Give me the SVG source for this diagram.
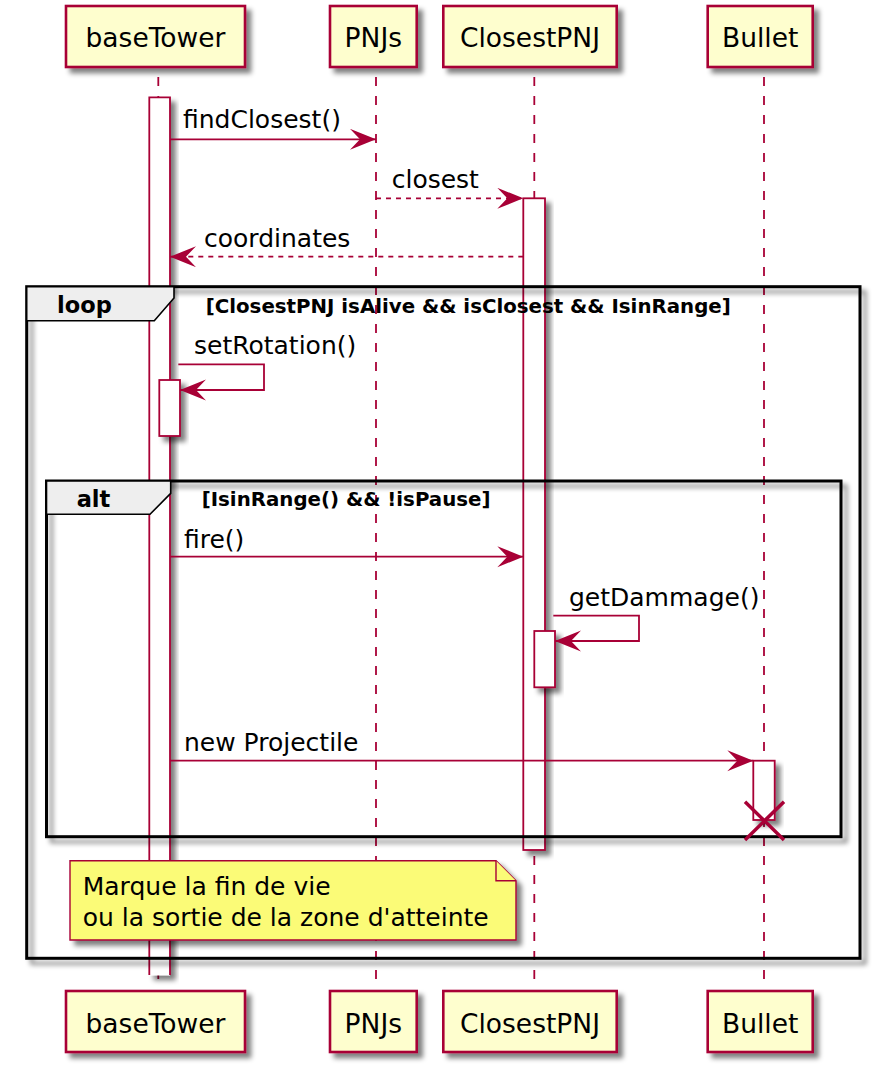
<svg xmlns="http://www.w3.org/2000/svg" width="880" height="1072" viewBox="0 0 880 1072">
<style>
.part{fill:#FEFECE;stroke:#A80036;stroke-width:2.6}
.pt{font-family:"DejaVu Sans",sans-serif;font-size:26.5px;fill:#000;text-anchor:middle}
.life{stroke:#A80036;stroke-width:1.8;stroke-dasharray:9,10;fill:none}
.act{fill:#FFFFFF;stroke:#A80036;stroke-width:1.8}
.msg{stroke:#A80036;stroke-width:1.8;fill:none}
.dash{stroke-dasharray:5,5}
.mt{font-family:"DejaVu Sans",sans-serif;font-size:25px;fill:#000}
.frame{fill:none;stroke:#000;stroke-width:3}
.tab{fill:#EEEEEE;stroke:#000;stroke-width:1.6}
.ft{font-family:"DejaVu Sans",sans-serif;font-weight:bold;font-size:22.5px;fill:#000}
.gt{font-family:"DejaVu Sans",sans-serif;font-weight:bold;font-size:19.8px;fill:#000}
.note{fill:#FBFB77;stroke:#A80036;stroke-width:1.4}
</style>
<defs>
<filter id="sh" x="-30%" y="-30%" width="170%" height="170%">
<feGaussianBlur in="SourceAlpha" stdDeviation="2.5"/>
<feOffset dx="5" dy="5" result="o"/>
<feComponentTransfer><feFuncA type="linear" slope="0.5"/></feComponentTransfer>
<feMerge><feMergeNode/><feMergeNode in="SourceGraphic"/></feMerge>
</filter>
<marker id="ah" markerUnits="userSpaceOnUse" markerWidth="30" markerHeight="24" refX="26" refY="10.5" orient="auto">
<path d="M0,0 L26,10.5 L0,21 L10,10.5 Z" fill="#A80036" stroke="none"/>
</marker>
</defs>
<rect width="880" height="1072" fill="#FFFFFF"/>

<g id="lifelines">
<line class="life" x1="158.3" y1="77" x2="158.3" y2="986"/>
<line class="life" x1="376" y1="77" x2="376" y2="986"/>
<line class="life" x1="534.3" y1="77" x2="534.3" y2="986"/>
<line class="life" x1="764" y1="77" x2="764" y2="986"/>
</g>

<g id="participants-top">
<g id="baseTower"><rect class="part" x="66" y="6" width="179" height="61" filter="url(#sh)"/><text class="pt" x="155.5" y="46.7">baseTower</text></g>
<g id="PNJs"><rect class="part" x="330" y="6" width="86.7" height="61" filter="url(#sh)"/><text class="pt" x="373.3" y="46.7">PNJs</text></g>
<g id="ClosestPNJ"><rect class="part" x="443.3" y="6" width="173.4" height="61" filter="url(#sh)"/><text class="pt" x="530" y="46.7">ClosestPNJ</text></g>
<g id="Bullet"><rect class="part" x="707.7" y="6" width="105" height="61" filter="url(#sh)"/><text class="pt" x="760.2" y="46.7">Bullet</text></g>
</g>

<g id="participants-bottom">
<g id="baseTower-b"><rect class="part" x="66" y="991" width="179" height="61" filter="url(#sh)"/><text class="pt" x="155.5" y="1033.3">baseTower</text></g>
<g id="PNJs-b"><rect class="part" x="330" y="991" width="86.7" height="61" filter="url(#sh)"/><text class="pt" x="373.3" y="1033.3">PNJs</text></g>
<g id="ClosestPNJ-b"><rect class="part" x="443.3" y="991" width="173.4" height="61" filter="url(#sh)"/><text class="pt" x="530" y="1033.3">ClosestPNJ</text></g>
<g id="Bullet-b"><rect class="part" x="707.7" y="991" width="105" height="61" filter="url(#sh)"/><text class="pt" x="760.2" y="1033.3">Bullet</text></g>
</g>

<g id="activations">
<g id="act-baseTower" filter="url(#sh)">
<rect x="149.3" y="97.3" width="20.7" height="878" fill="#FFFFFF"/>
<path class="msg" d="M149.3,975 V97.3 H170 V975"/>
</g>
<rect id="act-closest" class="act" x="523.3" y="198.3" width="21.7" height="651.7" filter="url(#sh)"/>
<rect id="act-setRotation" class="act" x="159.3" y="380" width="20.7" height="56" filter="url(#sh)"/>
<rect id="act-getDammage" class="act" x="534.3" y="631" width="20.7" height="56.3" filter="url(#sh)"/>
<rect id="act-bullet" class="act" x="753.3" y="760.7" width="21.4" height="59.3" filter="url(#sh)"/>
</g>

<g id="frames">
<g id="loop">
<rect class="frame" x="26.7" y="286.7" width="833.3" height="671.6" filter="url(#sh)"/>
<path class="tab" d="M26.7,286.7 H174 V298 L154.3,320.7 H26.7 Z"/>
<text class="ft" x="57" y="313.3">loop</text>
<text class="gt" x="205.7" y="312.7">[ClosestPNJ isAlive &amp;&amp; isClosest &amp;&amp; IsinRange]</text>
</g>
<g id="alt">
<rect class="frame" x="46.5" y="481" width="794.5" height="355.7" filter="url(#sh)"/>
<path class="tab" d="M46.5,481 H170.7 V493.3 L150,514.3 H46.5 Z"/>
<text class="ft" x="76.7" y="506.7">alt</text>
<text class="gt" x="201.7" y="506">[IsinRange() &amp;&amp; !isPause]</text>
</g>
</g>

<g id="connectors">
<line class="msg" x1="170" y1="139.3" x2="376" y2="139.3" marker-end="url(#ah)"/>
<text class="mt" x="183" y="128">findClosest()</text>
<line class="msg dash" x1="376" y1="198.3" x2="523.3" y2="198.3" marker-end="url(#ah)"/>
<text class="mt" x="391.7" y="188.3">closest</text>
<line class="msg dash" x1="523.3" y1="256.7" x2="170" y2="256.7" marker-end="url(#ah)"/>
<text class="mt" x="204" y="246.7">coordinates</text>
<path class="msg" d="M178.3,364.3 H264 V390 H180" marker-end="url(#ah)"/>
<text class="mt" x="194" y="354">setRotation()</text>
<line class="msg" x1="170" y1="556.7" x2="523.3" y2="556.7" marker-end="url(#ah)"/>
<text class="mt" x="184" y="547.7">fire()</text>
<path class="msg" d="M553.3,615.7 H639 V641 H555" marker-end="url(#ah)"/>
<text class="mt" x="569" y="605.7">getDammage()</text>
<line class="msg" x1="170" y1="760.7" x2="753.3" y2="760.7" marker-end="url(#ah)"/>
<text class="mt" x="184" y="751">new Projectile</text>
</g>

<g id="destroy">
<path d="M745,801.7 L784,840 M784,801.7 L745,840" stroke="#A80036" stroke-width="3.5" fill="none"/>
</g>

<g id="note">
<path class="note" d="M70,860.7 H496 L516,880.7 V940 H70 Z" filter="url(#sh)"/>
<path class="note" d="M496,860.7 V880.7 H516"/>
<text class="mt" x="82.7" y="895">Marque la fin de vie</text>
<text class="mt" x="82.7" y="926">ou la sortie de la zone d'atteinte</text>
</g>
</svg>
